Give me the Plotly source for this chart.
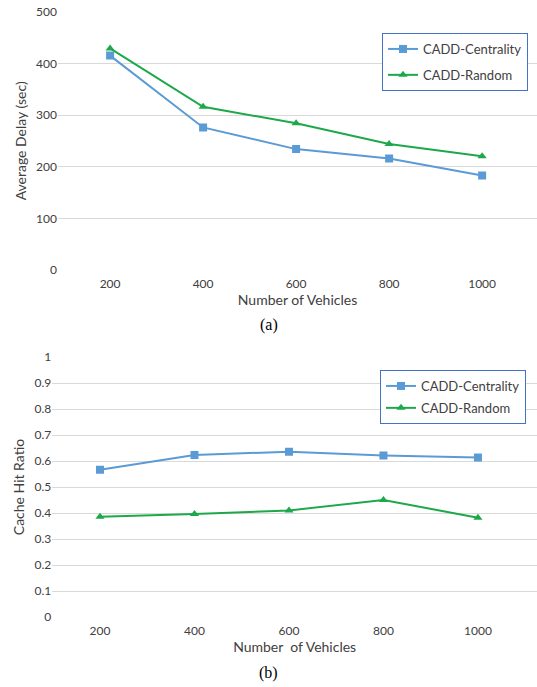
import plotly.graph_objects as go

vehicles = [200, 400, 600, 800, 1000]
delay_centrality = [415, 276, 234, 216, 183]
delay_random = [429, 316, 284, 244, 220]
hit_centrality = [0.566, 0.623, 0.636, 0.621, 0.613]
hit_random = [0.386, 0.396, 0.410, 0.450, 0.382]

delay_ticks = [0, 100, 200, 300, 400, 500]
hit_ticks = [0, 0.1, 0.2, 0.3, 0.4, 0.5, 0.6, 0.7, 0.8, 0.9, 1]
hit_ticktext = ["0", "0.1", "0.2", "0.3", "0.4", "0.5", "0.6", "0.7", "0.8", "0.9", "1"]

BLUE = "#5B9BD5"
GREEN = "#1DA84A"
GRID = "#D9D9D9"
TXT = "#404040"
FONT = "Lato"

fig = go.Figure()

def add(xv, yv, name, color, symbol, xa, ya, leg, grp):
    fig.add_trace(go.Scatter(x=xv, y=yv, name=name, mode="lines+markers",
                             line=dict(color=color, width=2),
                             marker=dict(symbol=symbol, size=8, color=color),
                             xaxis=xa, yaxis=ya, legend=leg, legendgroup=grp))

add(vehicles, delay_centrality, "CADD-Centrality", BLUE, "square", "x", "y", "legend", "a1")
add(vehicles, delay_random, "CADD-Random", GREEN, "triangle-up", "x", "y", "legend", "a2")
add(vehicles, hit_centrality, "CADD-Centrality", BLUE, "square", "x2", "y2", "legend2", "b1")
add(vehicles, hit_random, "CADD-Random", GREEN, "triangle-up", "x2", "y2", "legend2", "b2")

H = 687.0
W = 537.0

def py(px):
    return 1 - px / H

axis_font = dict(family=FONT, size=12, color=TXT)
title_font = dict(family=FONT, size=14, color=TXT)
leg_font = dict(family=FONT, size=13, color=TXT)

common_x = dict(showgrid=False, zeroline=False, showline=False, ticks="",
                tickfont=axis_font, automargin=False, fixedrange=True, ticklabelstandoff=5)
common_y = dict(showgrid=True, gridcolor=GRID, gridwidth=1, zeroline=False, showline=False,
                ticks="", tickfont=axis_font, automargin=False, fixedrange=True)

fig.update_layout(
    template="none",
    width=537, height=687,
    margin=dict(l=0, r=0, t=0, b=0, pad=0, autoexpand=False),
    paper_bgcolor="white", plot_bgcolor="white",
    font=dict(family=FONT, size=12, color=TXT),
    xaxis=dict(domain=[58 / W, 1.0], range=[88, 1118], tickvals=vehicles, anchor="y",
               title=dict(text="Number of Vehicles", font=title_font, standoff=3), **common_x),
    yaxis=dict(domain=[py(270), py(11.7)], range=[0, 500], tickvals=delay_ticks, anchor="x",
               title=dict(text="Average Delay (sec)", font=title_font, standoff=6), **common_y),
    xaxis2=dict(domain=[52.3 / W, 1.0], range=[99, 1125], tickvals=vehicles, anchor="y2",
                title=dict(text="Number  of Vehicles", font=title_font, standoff=3), **common_x),
    yaxis2=dict(domain=[py(617), py(357)], range=[0, 1], tickvals=hit_ticks, ticktext=hit_ticktext,
                anchor="x2",
                title=dict(text="Cache Hit Ratio", font=title_font, standoff=6), **common_y),
    legend=dict(x=382 / W, y=py(33), xanchor="left", yanchor="top",
                bgcolor="white", bordercolor="#4472C4", borderwidth=1,
                font=leg_font, tracegroupgap=6),
    legend2=dict(x=380 / W, y=py(370), xanchor="left", yanchor="top",
                 bgcolor="white", bordercolor="#4472C4", borderwidth=1,
                 font=leg_font, tracegroupgap=2),
    showlegend=True,
    annotations=[
        dict(text="(a)", x=0.5, y=py(325), xref="paper", yref="paper", showarrow=False,
             yanchor="middle", font=dict(family="Liberation Serif", size=16, color="black")),
        dict(text="(b)", x=0.5, y=py(673), xref="paper", yref="paper", showarrow=False,
             yanchor="middle", font=dict(family="Liberation Serif", size=16, color="black")),
    ],
)

fig.write_html("out.html", config={"displayModeBar": False},
               post_script="document.body.style.margin='0';document.body.style.overflow='hidden';")
